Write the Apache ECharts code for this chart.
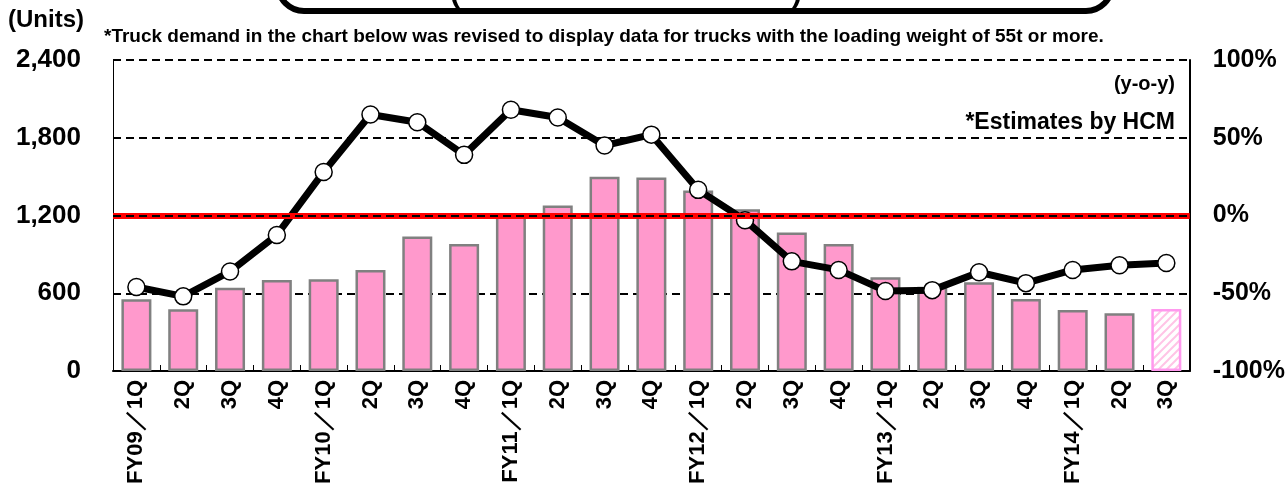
<!DOCTYPE html>
<html>
<head>
<meta charset="utf-8">
<script src="https://cdn.jsdelivr.net/npm/echarts@6/dist/echarts.min.js"></script>
<style>
html, body { margin: 0; padding: 0; background: #fff; }
#echarts_container { width: 1288px; height: 490px; }
</style>
</head>
<body>
<div id="echarts_container"></div>
<script>
// quarters on the x axis
var quarters = ['FY09／1Q', '2Q', '3Q', '4Q',
    'FY10／1Q', '2Q', '3Q', '4Q',
    'FY11／1Q', '2Q', '3Q', '4Q',
    'FY12／1Q', '2Q', '3Q', '4Q',
    'FY13／1Q', '2Q', '3Q', '4Q',
    'FY14／1Q', '2Q', '3Q']

// truck demand (units), left axis
var demand = [554, 476, 643, 703, 708, 780, 1037, 981,
    1192, 1277, 1500, 1493, 1392, 1249, 1068, 981,
    723, 650, 685, 556, 471, 445, 479]

// y-o-y change (%), right axis
var yoy = [-46, -52, -36, -12.5, 28, 65, 60, 39,
    68, 63, 45, 52, 16.5, -3, -29.5, -35,
    -48.5, -48, -36.5, -43.5, -35, -32, -30.5]

// last quarter is an HCM estimate
var estimateFrom = 22

var leftTicks = { min: 0, max: 2400, step: 600 }
var rightTicks = { min: -100, max: 100, step: 50 }

var chartDom = document.getElementById('echarts_container');
var myChart = echarts.init(chartDom);
var option;

// hatched fill for the estimated bar
var hatch = document.createElement('canvas')
hatch.width = 8
hatch.height = 8
var ctx = hatch.getContext('2d')
ctx.fillStyle = '#ffffff'
ctx.fillRect(0, 0, 8, 8)
ctx.strokeStyle = '#FFC4E6'
ctx.lineWidth = 2
ctx.beginPath()
ctx.moveTo(0, 8); ctx.lineTo(8, 0)
ctx.moveTo(-2, 2); ctx.lineTo(2, -2)
ctx.moveTo(6, 10); ctx.lineTo(10, 6)
ctx.stroke()

var barData = demand.map(function (v, i) {
    if (i >= estimateFrom) {
        return {
            value: v,
            itemStyle: { color: { image: hatch, repeat: 'repeat' }, borderColor: '#FF99EE' }
        }
    }
    return v
})

var font = 'Liberation Sans'

option = {
    animation: false,
    textStyle: { fontFamily: font },
    grid: {
        left: 113,
        right: 98,
        top: 60,
        bottom: 119,
        containLabel: false
    },
    xAxis: {
        type: 'category',
        data: quarters,
        axisLine: { lineStyle: { color: '#000', width: 2 } },
        axisTick: { show: true, inside: true, length: 6, lineStyle: { color: '#000', width: 1 } },
        axisLabel: {
            rotate: 90,
            interval: 0,
            margin: 9,
            fontSize: 22,
            fontWeight: 'bold',
            color: '#000',
            fontFamily: font
        }
    },
    yAxis: [
        {
            type: 'value',
            min: leftTicks.min,
            max: leftTicks.max,
            interval: leftTicks.step,
            axisLine: { show: true, lineStyle: { color: '#000', width: 1 } },
            axisTick: { show: false },
            splitLine: { show: true, lineStyle: { color: '#000', width: 2, type: [8, 5] } },
            axisLabel: {
                margin: 32,
                fontSize: 26,
                fontWeight: 'bold',
                color: '#000',
                fontFamily: font,
                formatter: function (v) { return v.toLocaleString('en-US') }
            }
        },
        {
            type: 'value',
            min: rightTicks.min,
            max: rightTicks.max,
            interval: rightTicks.step,
            position: 'right',
            axisLine: { show: true, lineStyle: { color: '#000', width: 2 } },
            axisTick: { show: false },
            splitLine: { show: false },
            axisLabel: {
                margin: 23,
                fontSize: 25,
                fontWeight: 'bold',
                color: '#000',
                fontFamily: font,
                formatter: function (v) { return v + '%' }
            }
        }
    ],
    graphic: [
        {
            type: 'rect',
            shape: { x: 278, y: -50, width: 834, height: 61, r: 26 },
            style: { fill: null, stroke: '#000', lineWidth: 6 }
        },
        {
            type: 'text', x: 455, y: 9,
            style: { text: '(', font: 'bold 30px "Liberation Sans"', fill: '#000', align: 'center', verticalAlign: 'bottom' }
        },
        {
            type: 'text', x: 797, y: 9,
            style: { text: ')', font: 'bold 30px "Liberation Sans"', fill: '#000', align: 'center', verticalAlign: 'bottom' }
        },
        {
            type: 'text', left: 8, top: 8,
            style: { text: '(Units)', font: 'bold 24px "Liberation Sans"', fill: '#000' }
        },
        {
            type: 'text', left: 104, top: 27,
            style: {
                text: '*Truck demand in the chart below was revised to display data for trucks with the loading weight of 55t or more.',
                font: 'bold 19px "Liberation Sans"', fill: '#000'
            }
        },
        {
            type: 'text', x: 1175, y: 84,
            style: { text: '(y-o-y)', font: 'bold 20px "Liberation Sans"', fill: '#000', align: 'right', verticalAlign: 'middle' }
        },
        {
            type: 'text', x: 1175, y: 123,
            style: { text: '*Estimates by HCM', font: 'bold 23px "Liberation Sans"', fill: '#000', align: 'right', verticalAlign: 'middle' }
        }
    ],
    series: [
        {
            name: 'zero',
            type: 'line',
            yAxisIndex: 1,
            data: [],
            z: 1,
            silent: true,
            markLine: {
                silent: true,
                symbol: 'none',
                label: { show: false },
                data: [
                    { yAxis: 0, lineStyle: { color: '#FF0000', width: 6, type: 'solid' } },
                    { yAxis: 0, lineStyle: { color: '#000', width: 2, type: [8, 5] } }
                ]
            }
        },
        {
            name: 'Demand',
            type: 'bar',
            data: barData,
            barWidth: 30,
            z: 2,
            itemStyle: { color: '#FF99CC', borderColor: '#808080', borderWidth: 2.5 }
        },
        {
            name: 'y-o-y',
            type: 'line',
            yAxisIndex: 1,
            data: yoy,
            z: 3,
            symbol: 'circle',
            symbolSize: 17,
            lineStyle: { color: '#000', width: 7 },
            itemStyle: { color: '#fff', borderColor: '#000', borderWidth: 1.5 }
        }
    ]
};

option && myChart.setOption(option);
</script>
</body>
</html>
